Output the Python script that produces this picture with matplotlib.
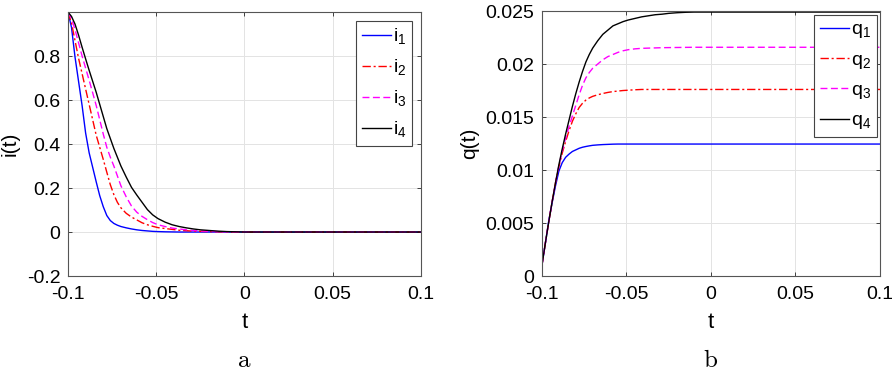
import matplotlib
matplotlib.use("Agg")
import matplotlib.pyplot as plt

plt.rcParams['font.family'] = ['Liberation Sans', 'DejaVu Sans']
plt.rcParams['mathtext.fontset'] = 'custom'
plt.rcParams['mathtext.rm'] = 'Liberation Sans'

# values
t = [-0.100, -0.098, -0.096, -0.094, -0.092, -0.090, -0.088, -0.086, -0.084, -0.082,
     -0.080, -0.078, -0.076, -0.074, -0.072, -0.070, -0.067, -0.064, -0.061, -0.058,
     -0.055, -0.052, -0.049, -0.045, -0.041, -0.037, -0.033, -0.029, -0.025, -0.020,
     -0.015, -0.010, -0.005, 0.000, 0.050, 0.100]

i1 = [1.000, 0.930, 0.795, 0.685, 0.575, 0.450, 0.360, 0.294, 0.228, 0.165,
      0.115, 0.075, 0.052, 0.039, 0.031, 0.025, 0.019, 0.014, 0.010, 0.007,
      0.005, 0.003, 0.002, 0.001, 0.0005, 0, 0, 0, 0, 0,
      0, 0, 0, 0, 0, 0]
i2 = [1.000, 0.950, 0.870, 0.790, 0.720, 0.650, 0.580, 0.510, 0.440, 0.385,
      0.330, 0.272, 0.215, 0.170, 0.135, 0.110, 0.085, 0.068, 0.055, 0.042,
      0.033, 0.026, 0.020, 0.016, 0.012, 0.008, 0.006, 0.004, 0.003, 0.002,
      0.001, 0.0005, 0, 0, 0, 0]
i3 = [1.000, 0.970, 0.920, 0.860, 0.800, 0.745, 0.690, 0.633, 0.575, 0.510,
      0.445, 0.385, 0.340, 0.300, 0.255, 0.210, 0.160, 0.118, 0.090, 0.071,
      0.056, 0.043, 0.033, 0.025, 0.018, 0.014, 0.010, 0.007, 0.005, 0.003,
      0.002, 0.001, 0.0005, 0, 0, 0]
i4 = [1.000, 0.980, 0.945, 0.895, 0.840, 0.787, 0.735, 0.685, 0.635, 0.580,
      0.525, 0.470, 0.425, 0.380, 0.340, 0.300, 0.250, 0.203, 0.168, 0.135,
      0.102, 0.078, 0.061, 0.045, 0.033, 0.025, 0.019, 0.014, 0.010, 0.007,
      0.004, 0.002, 0.001, 0, 0, 0]

q1 = [0.00104, 0.0031, 0.0052, 0.0069, 0.0085, 0.0099, 0.0107, 0.0112, 0.0115, 0.01175,
      0.0119, 0.01205, 0.01215, 0.01222, 0.01228, 0.01233, 0.01237, 0.0124, 0.01242, 0.01244,
      0.01245, 0.01245, 0.01245, 0.01245, 0.01245, 0.01245, 0.01245, 0.01245, 0.01245, 0.01245,
      0.01245, 0.01245, 0.01245, 0.01245, 0.01245, 0.01245]
q2 = [0.00104, 0.0031, 0.0051, 0.0070, 0.0088, 0.0103, 0.0116, 0.0127, 0.0137, 0.0146,
      0.0153, 0.0159, 0.0163, 0.0166, 0.0168, 0.01695, 0.0171, 0.01722, 0.01732, 0.0174,
      0.01745, 0.0175, 0.01753, 0.01757, 0.0176, 0.0176, 0.0176, 0.0176, 0.0176, 0.0176,
      0.0176, 0.0176, 0.0176, 0.0176, 0.0176, 0.0176]
q3 = [0.00104, 0.0031, 0.0051, 0.0070, 0.0088, 0.0104, 0.0118, 0.0130, 0.0141, 0.0151,
      0.0161, 0.0171, 0.0180, 0.0187, 0.0192, 0.0196, 0.0200, 0.0204, 0.0207, 0.0209,
      0.0211, 0.02125, 0.02135, 0.02143, 0.02148, 0.0215, 0.02152, 0.02154, 0.02155, 0.02156,
      0.02157, 0.02158, 0.02158, 0.02158, 0.02158, 0.02158]
q4 = [0.00104, 0.0031, 0.0051, 0.0070, 0.0088, 0.0105, 0.0120, 0.0134, 0.0147, 0.0160,
      0.0172, 0.0183, 0.0193, 0.0202, 0.0209, 0.0215, 0.0222, 0.0228, 0.0232, 0.0236,
      0.0238, 0.0240, 0.02415, 0.0243, 0.02445, 0.02455, 0.02465, 0.0247, 0.02478, 0.02484,
      0.02488, 0.0249, 0.0249, 0.0249, 0.0249, 0.0249]

x_ticks = [-0.1, -0.05, 0, 0.05, 0.1]
x_labels = ['-0.1', '-0.05', '0', '0.05', '0.1']
i_ticks = [-0.2, 0, 0.2, 0.4, 0.6, 0.8]
i_labels = ['-0.2', '0', '0.2', '0.4', '0.6', '0.8']
q_ticks = [0, 0.005, 0.01, 0.015, 0.02, 0.025]
q_labels = ['0', '0.005', '0.01', '0.015', '0.02', '0.025']

i_names = [r'i$_1$', r'i$_2$', r'i$_3$', r'i$_4$']
q_names = [r'q$_1$', r'q$_2$', r'q$_3$', r'q$_4$']

styles = [dict(color='blue', ls='-'),
          dict(color='red', ls=(0, (6, 2, 1.5, 2))),
          dict(color='magenta', ls=(0, (5, 2.5))),
          dict(color='black', ls='-')]


def style_axes(ax, yticks, ylabels, ylim, ylab, ylab_x):
    ax.set_xlim(-0.1, 0.1)
    ax.set_ylim(*ylim)
    ax.set_xticks(x_ticks)
    ax.set_xticklabels(x_labels)
    ax.set_yticks(yticks)
    ax.set_yticklabels(ylabels)
    ax.tick_params(direction='in', top=True, right=True, length=3, width=0.6,
                   color='#262626', labelsize=14)
    ax.tick_params(axis='x', pad=7.5)
    ax.tick_params(axis='y', pad=5.5)
    ax.grid(True, color='#e3e3e3', lw=0.7)
    ax.set_axisbelow(True)
    for sp in ax.spines.values():
        sp.set_color('#555555')
        sp.set_linewidth(0.8)
    ax.set_xlabel('t', fontsize=16)
    ax.xaxis.set_label_coords(0.5, -0.135)
    ax.set_ylabel(ylab, fontsize=15)
    ax.yaxis.set_label_coords(ylab_x, 0.5)


fig = plt.figure(figsize=(8.92, 3.71), dpi=100)
ax1 = fig.add_axes([0.0762, 0.256, 0.3957, 0.7116])
ax2 = fig.add_axes([0.6076, 0.256, 0.3789, 0.7143])

for ys, name, st in zip([i1, i2, i3, i4], i_names, styles):
    ax1.plot(t, ys, lw=1.0, label=name, **st)
for ys, name, st in zip([q1, q2, q3, q4], q_names, styles):
    ax2.plot(t, ys, lw=1.0, label=name, **st)

style_axes(ax1, i_ticks, i_labels, (-0.2, 1.0), 'i(t)', -0.136)
style_axes(ax2, q_ticks, q_labels, (0, 0.025), 'q(t)', -0.186)

for ax, anchor in [(ax1, (0.975, 0.965)), (ax2, (0.992, 0.985))]:
    leg = ax.legend(loc='upper right', bbox_to_anchor=anchor, fontsize=14,
                    handlelength=1.5, handletextpad=0.1, labelspacing=0.55,
                    borderpad=0.3, borderaxespad=0, fancybox=False,
                    edgecolor='#444444', framealpha=1)
    leg.get_frame().set_linewidth(0.8)

fig.text(0.2735, 0.012, r'$\mathrm{a}$', ha='center', va='baseline',
         fontsize=18, math_fontfamily='cm')
fig.text(0.797, 0.012, r'$\mathrm{b}$', ha='center', va='baseline',
         fontsize=18, math_fontfamily='cm')

fig.savefig('out.png', dpi=100)
